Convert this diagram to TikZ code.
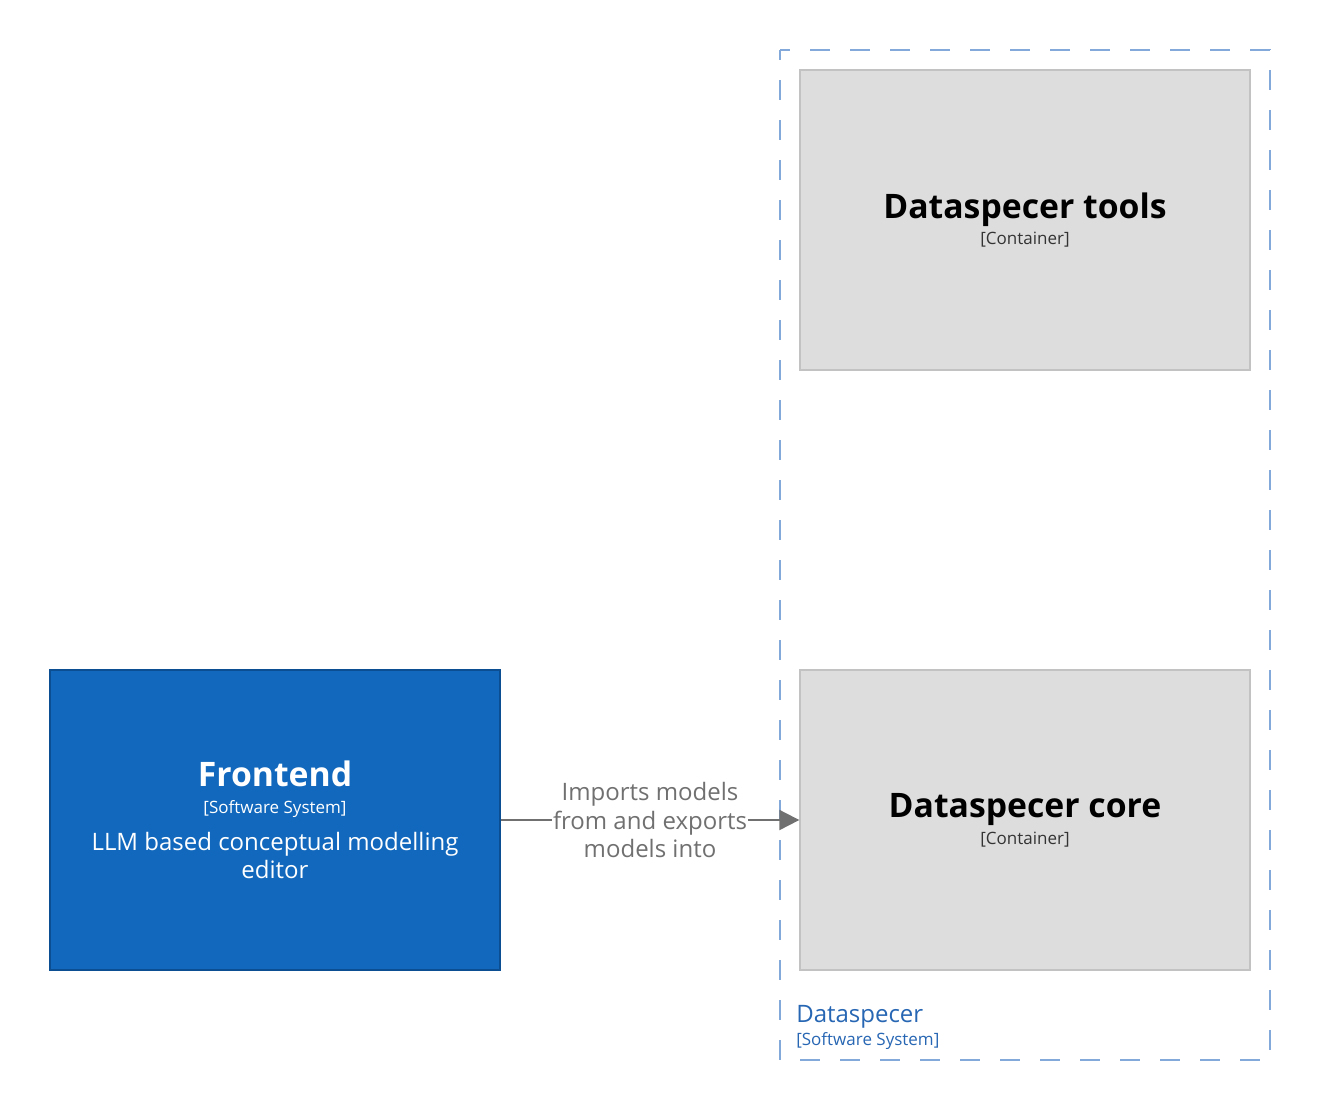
\documentclass[tikz,border=0pt]{standalone}
\usepackage{fontspec}
\setmainfont{Open Sans}
\usetikzlibrary{arrows.meta, positioning}
\definecolor{sysblue}{HTML}{1168BD}
\definecolor{sysborder}{HTML}{0B4E92}
\definecolor{contgrey}{HTML}{DDDDDD}
\definecolor{contborder}{HTML}{C2C2C2}
\definecolor{bndblue}{HTML}{82A9DA}
\definecolor{bndtext}{HTML}{2766B3}
\definecolor{relgrey}{HTML}{707070}
\newcommand{\titlefont}{\bfseries\fontsize{25.3pt}{30pt}\selectfont}
\newcommand{\tagfont}{\fontsize{12.75pt}{15pt}\selectfont}
\tikzset{
  system/.style={draw=sysborder, fill=sysblue, text=white, line width=1pt, minimum width=337.5pt, minimum height=225pt, align=center, inner sep=0pt, font=\fontsize{18pt}{21pt}\selectfont},
  container/.style={draw=contborder, fill=contgrey, text=black, line width=1pt, minimum width=337.5pt, minimum height=225pt, align=center, inner sep=0pt, font=\fontsize{12.75pt}{20pt}\selectfont},
  boundary/.style={draw=bndblue, line width=1.5pt, dash pattern=on 15pt off 15pt, dash phase=7.5pt},
  rel/.style={draw=relgrey, line width=1.5pt, -{Triangle[length=15pt, width=15pt]}},
  rellabel/.style={fill=white, text=relgrey, align=center, inner xsep=1pt, inner ysep=0pt, font=\fontsize{18pt}{21.4pt}\selectfont},
}
\begin{document}
\begin{tikzpicture}[x=0.75pt, y=-0.75pt]
  \useasboundingbox (0,0) rectangle (1320,1111);

  % software system boundary
  \draw[boundary] (780,50) rectangle (1270,1060);
  \node[anchor=base west, align=left, inner sep=0pt, text=bndtext, font=\fontsize{18pt}{17.25pt}\selectfont] (bndlabel) at (796,1045)
    {Dataspecer\\{\tagfont [Software System]}};

  % containers
  \node[container] (tools) at (1025,220) {{\titlefont Dataspecer tools}\\{\color{black!80}[Container]}};
  \node[container] (core) at (1025,820) {{\titlefont Dataspecer core}\\{\color{black!80}[Container]}};

  % frontend
  \node[system] (frontend) at (275,820)
    {{\titlefont Frontend}\\[-0.75pt]{\tagfont [Software System]}\\[6.75pt]LLM based conceptual modelling\\editor};

  % relationship
  \draw[rel] (frontend) -- (core)
    node[rellabel, midway] (imports) {Imports models\\from and exports\\models into};

\end{tikzpicture}
\end{document}
